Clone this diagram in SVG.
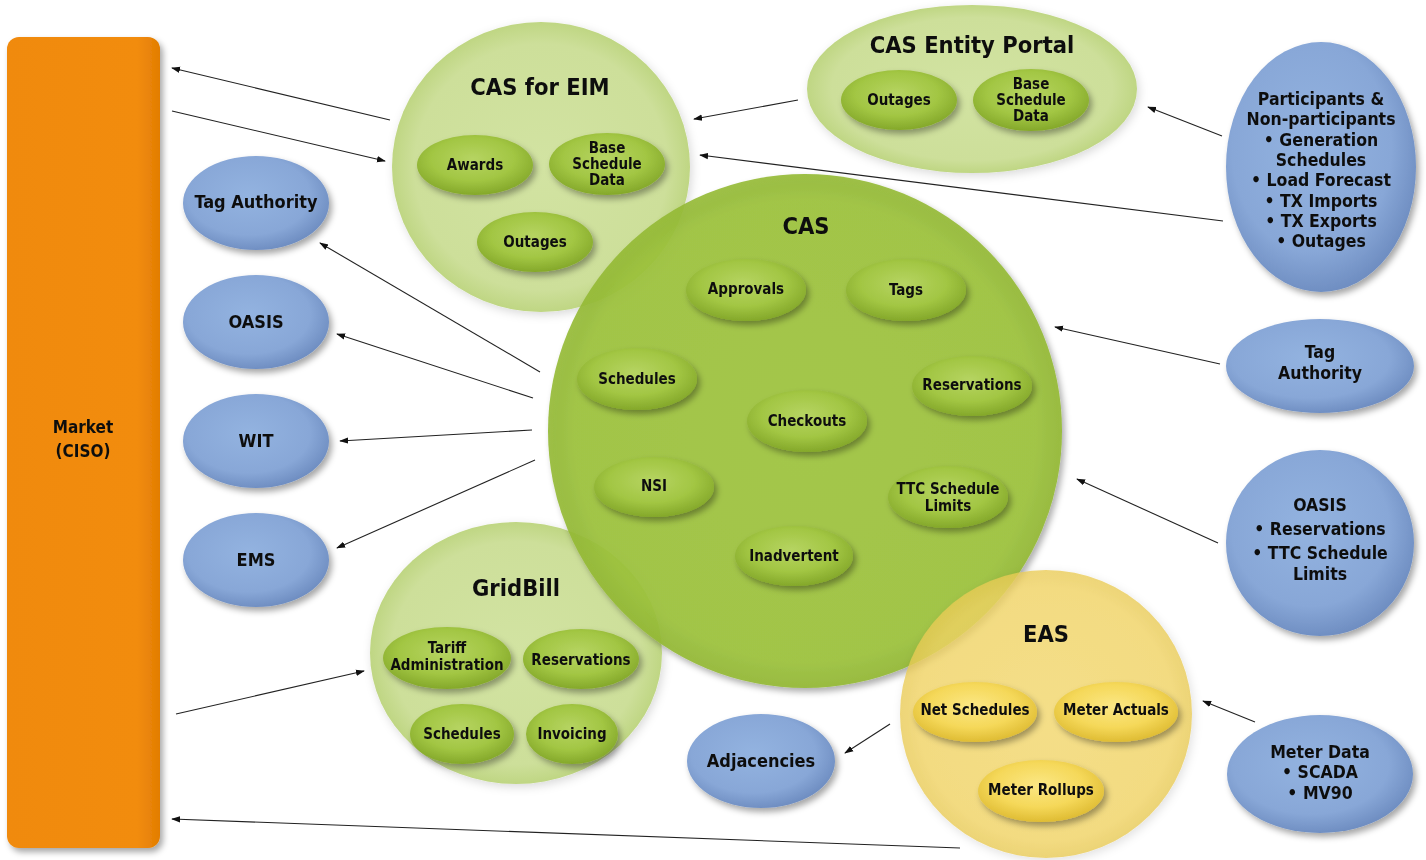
<svg xmlns="http://www.w3.org/2000/svg" width="1426" height="860" viewBox="0 0 1426 860">
<defs>
<style>
text{font-family:"Liberation Sans Narrow","DejaVu Sans Condensed","Liberation Sans",sans-serif;font-weight:bold;fill:#111;text-anchor:middle}
.t{font-size:23.5px}
.s{font-size:15px}
.b{font-size:18px}
.r{font-size:17.5px}
.m{font-size:17px}
.c{stroke:#222;stroke-width:1.1;fill:none;marker-end:url(#ah)}
</style>
<marker id="ah" viewBox="0 0 10 10" refX="9" refY="5" markerWidth="9" markerHeight="9" markerUnits="userSpaceOnUse" orient="auto"><path d="M0,1.5 L10,5 L0,8.5 z" fill="#111"/></marker>
<filter id="sh" x="-20%" y="-20%" width="140%" height="150%"><feDropShadow dx="3" dy="4" stdDeviation="3" flood-color="#000" flood-opacity="0.35"/></filter>
<filter id="shl" x="-10%" y="-10%" width="125%" height="125%"><feDropShadow dx="2" dy="3" stdDeviation="5" flood-color="#000" flood-opacity="0.15"/></filter>
<linearGradient id="gOr" x1="0" y1="0" x2="1" y2="0"><stop offset="0" stop-color="#f08a0c"/><stop offset="0.85" stop-color="#f28c0b"/><stop offset="1" stop-color="#e27d04"/></linearGradient>
<radialGradient id="gLt" cx="50%" cy="50%" r="50%"><stop offset="0" stop-color="#d2e3a2"/><stop offset="0.85" stop-color="#cddf9a"/><stop offset="1" stop-color="#bfd683"/></radialGradient>
<radialGradient id="gCas" cx="50%" cy="50%" r="50%"><stop offset="0" stop-color="#a0c63e"/><stop offset="0.9" stop-color="#9dc33c"/><stop offset="1" stop-color="#93b934"/></radialGradient>
<radialGradient id="gSg" cx="48%" cy="40%" r="60%"><stop offset="0" stop-color="#b6d462"/><stop offset="0.6" stop-color="#a2c643"/><stop offset="1" stop-color="#84a82a"/></radialGradient>
<radialGradient id="gBl" cx="45%" cy="42%" r="60%"><stop offset="0" stop-color="#93b3e0"/><stop offset="0.7" stop-color="#88a7d7"/><stop offset="1" stop-color="#6d8cc0"/></radialGradient>
<radialGradient id="gYb" cx="50%" cy="50%" r="50%"><stop offset="0" stop-color="#f5da6e"/><stop offset="0.88" stop-color="#f3d665"/><stop offset="1" stop-color="#eacb55"/></radialGradient>
<radialGradient id="gSy" cx="48%" cy="40%" r="60%"><stop offset="0" stop-color="#fbe784"/><stop offset="0.6" stop-color="#f5d859"/><stop offset="1" stop-color="#dfbc33"/></radialGradient>
</defs>
<rect width="1426" height="860" fill="#fff"/>

<g id="market" filter="url(#sh)">
<rect x="7" y="37" width="153" height="811" rx="12" fill="url(#gOr)"/>
<text class="m" x="83" y="433">Market</text>
<text class="m" x="83" y="457">(CISO)</text>
</g>

<g id="cas-eim" filter="url(#shl)">
<ellipse cx="541" cy="167" rx="149" ry="145" fill="url(#gLt)"/>
<text class="t" x="540" y="95">CAS for EIM</text>
</g>
<g id="eim-awards" filter="url(#sh)"><ellipse cx="475" cy="165" rx="58" ry="30" fill="url(#gSg)"/><text class="s" x="475" y="170">Awards</text></g>
<g id="eim-base" filter="url(#sh)"><ellipse cx="607" cy="164" rx="58" ry="31" fill="url(#gSg)"/><text class="s" x="607" y="153">Base</text><text class="s" x="607" y="169">Schedule</text><text class="s" x="607" y="185">Data</text></g>
<g id="eim-outages" filter="url(#sh)"><ellipse cx="535" cy="242" rx="58" ry="30" fill="url(#gSg)"/><text class="s" x="535" y="247">Outages</text></g>

<g id="cas-portal" filter="url(#shl)">
<ellipse cx="972" cy="89" rx="165" ry="84" fill="url(#gLt)"/>
<text class="t" x="972" y="53">CAS Entity Portal</text>
</g>
<g id="portal-outages" filter="url(#sh)"><ellipse cx="899" cy="100" rx="58" ry="30" fill="url(#gSg)"/><text class="s" x="899" y="105">Outages</text></g>
<g id="portal-base" filter="url(#sh)"><ellipse cx="1031" cy="100" rx="58" ry="31" fill="url(#gSg)"/><text class="s" x="1031" y="89">Base</text><text class="s" x="1031" y="105">Schedule</text><text class="s" x="1031" y="121">Data</text></g>

<g id="gridbill" filter="url(#shl)">
<ellipse cx="516" cy="653" rx="146" ry="131" fill="url(#gLt)"/>
<text class="t" x="516" y="596">GridBill</text>
</g>
<g id="gb-tariff" filter="url(#sh)"><ellipse cx="447" cy="658" rx="64" ry="31" fill="url(#gSg)"/><text class="s" x="447" y="653">Tariff</text><text class="s" x="447" y="670">Administration</text></g>
<g id="gb-res" filter="url(#sh)"><ellipse cx="581" cy="659" rx="58" ry="30" fill="url(#gSg)"/><text class="s" x="581" y="665">Reservations</text></g>
<g id="gb-sched" filter="url(#sh)"><ellipse cx="462" cy="734" rx="52" ry="30" fill="url(#gSg)"/><text class="s" x="462" y="739">Schedules</text></g>
<g id="gb-inv" filter="url(#sh)"><ellipse cx="572" cy="734" rx="46" ry="30" fill="url(#gSg)"/><text class="s" x="572" y="739">Invoicing</text></g>

<g id="cas" filter="url(#sh)">
<circle cx="805" cy="431" r="257" fill="url(#gCas)" fill-opacity="0.9"/>
<text class="t" x="806" y="234">CAS</text>
</g>
<g id="cas-approvals" filter="url(#sh)"><ellipse cx="746" cy="290" rx="60" ry="31" fill="url(#gSg)"/><text class="s" x="746" y="294">Approvals</text></g>
<g id="cas-tags" filter="url(#sh)"><ellipse cx="906" cy="290" rx="60" ry="31" fill="url(#gSg)"/><text class="s" x="906" y="295">Tags</text></g>
<g id="cas-schedules" filter="url(#sh)"><ellipse cx="637" cy="379" rx="60" ry="31" fill="url(#gSg)"/><text class="s" x="637" y="384">Schedules</text></g>
<g id="cas-reservations" filter="url(#sh)"><ellipse cx="972" cy="386" rx="60" ry="30" fill="url(#gSg)"/><text class="s" x="972" y="390">Reservations</text></g>
<g id="cas-checkouts" filter="url(#sh)"><ellipse cx="807" cy="421" rx="60" ry="31" fill="url(#gSg)"/><text class="s" x="807" y="426">Checkouts</text></g>
<g id="cas-nsi" filter="url(#sh)"><ellipse cx="654" cy="487" rx="60" ry="30" fill="url(#gSg)"/><text class="s" x="654" y="491">NSI</text></g>
<g id="cas-ttc" filter="url(#sh)"><ellipse cx="948" cy="497" rx="60" ry="31" fill="url(#gSg)"/><text class="s" x="948" y="494">TTC Schedule</text><text class="s" x="948" y="511">Limits</text></g>
<g id="cas-inadvertent" filter="url(#sh)"><ellipse cx="794" cy="556" rx="59" ry="30" fill="url(#gSg)"/><text class="s" x="794" y="561">Inadvertent</text></g>

<g id="eas" filter="url(#shl)">
<ellipse cx="1046" cy="714" rx="146" ry="144" fill="url(#gYb)" fill-opacity="0.78"/>
<text class="t" x="1046" y="642">EAS</text>
</g>
<g id="eas-net" filter="url(#sh)"><ellipse cx="975" cy="712" rx="62" ry="30" fill="url(#gSy)"/><text class="s" x="975" y="715">Net Schedules</text></g>
<g id="eas-actuals" filter="url(#sh)"><ellipse cx="1116" cy="712" rx="62" ry="30" fill="url(#gSy)"/><text class="s" x="1116" y="715">Meter Actuals</text></g>
<g id="eas-rollups" filter="url(#sh)"><ellipse cx="1041" cy="791" rx="63" ry="31" fill="url(#gSy)"/><text class="s" x="1041" y="795">Meter Rollups</text></g>

<g id="tag-left" filter="url(#sh)"><ellipse cx="256" cy="203" rx="73" ry="47" fill="url(#gBl)"/><text class="b" x="256" y="208">Tag Authority</text></g>
<g id="oasis-left" filter="url(#sh)"><ellipse cx="256" cy="322" rx="73" ry="47" fill="url(#gBl)"/><text class="b" x="256" y="328">OASIS</text></g>
<g id="wit" filter="url(#sh)"><ellipse cx="256" cy="441" rx="73" ry="47" fill="url(#gBl)"/><text class="b" x="256" y="447">WIT</text></g>
<g id="ems" filter="url(#sh)"><ellipse cx="256" cy="560" rx="73" ry="47" fill="url(#gBl)"/><text class="b" x="256" y="566">EMS</text></g>
<g id="adjacencies" filter="url(#sh)"><ellipse cx="761" cy="761" rx="74" ry="47" fill="url(#gBl)"/><text class="b" x="761" y="767">Adjacencies</text></g>

<g id="participants" filter="url(#sh)">
<ellipse cx="1321" cy="167" rx="95" ry="125" fill="url(#gBl)"/>
<text class="r" x="1321" y="105">Participants &amp;</text>
<text class="r" x="1321" y="125">Non-participants</text>
<text class="r" x="1321" y="146">• Generation</text>
<text class="r" x="1321" y="166">Schedules</text>
<text class="r" x="1321" y="186">• Load Forecast</text>
<text class="r" x="1321" y="207">• TX Imports</text>
<text class="r" x="1321" y="227">• TX Exports</text>
<text class="r" x="1321" y="247">• Outages</text>
</g>
<g id="tag-right" filter="url(#sh)">
<ellipse cx="1320" cy="366" rx="94" ry="47" fill="url(#gBl)"/>
<text class="r" x="1320" y="358">Tag</text>
<text class="r" x="1320" y="379">Authority</text>
</g>
<g id="oasis-right" filter="url(#sh)">
<ellipse cx="1320" cy="543" rx="94" ry="93" fill="url(#gBl)"/>
<text class="r" x="1320" y="511">OASIS</text>
<text class="r" x="1320" y="535">• Reservations</text>
<text class="r" x="1320" y="559">• TTC Schedule</text>
<text class="r" x="1320" y="580">Limits</text>
</g>
<g id="meter-data" filter="url(#sh)">
<ellipse cx="1320" cy="774" rx="93" ry="59" fill="url(#gBl)"/>
<text class="r" x="1320" y="758">Meter Data</text>
<text class="r" x="1320" y="778">• SCADA</text>
<text class="r" x="1320" y="799">• MV90</text>
</g>

<g id="connectors">
<path class="c" d="M390,120 L172,68"/>
<path class="c" d="M172,111 L385,161"/>
<path class="c" d="M798,100 L694,119"/>
<path class="c" d="M1223,221 L700,155"/>
<path class="c" d="M1222,136 L1148,107"/>
<path class="c" d="M1220,364 L1055,327"/>
<path class="c" d="M1218,543 L1077,479"/>
<path class="c" d="M1255,722 L1203,701"/>
<path class="c" d="M890,724 L845,753"/>
<path class="c" d="M540,372 L320,243"/>
<path class="c" d="M533,398 L337,334"/>
<path class="c" d="M532,430 L340,441"/>
<path class="c" d="M535,460 L337,548"/>
<path class="c" d="M176,714 L364,671"/>
<path class="c" d="M960,848 L172,819"/>
</g>
</svg>
